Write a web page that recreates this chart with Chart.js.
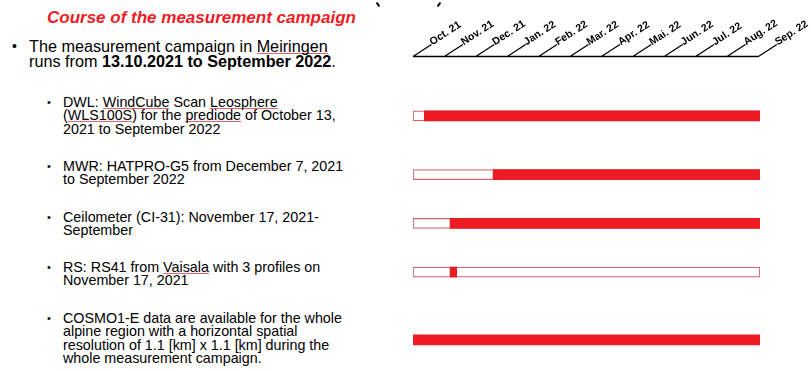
<!DOCTYPE html>
<html>
<head>
<meta charset="utf-8">
<script src="https://cdn.jsdelivr.net/npm/chart.js@4/dist/chart.umd.min.js"></script>
<style>
  html, body { margin: 0; padding: 0; background: #fff; }
  body { width: 811px; height: 371px; position: relative; overflow: hidden;
         font-family: "Liberation Sans", Arial, sans-serif; color: #000; }
  .title { position: absolute; left: 47px; top: 8px; font-size: 17px; font-weight: bold;
           font-style: italic; color: #ee1c25; white-space: nowrap; }
  .main { position: absolute; left: 29px; top: 39px; font-size: 16.2px; line-height: 15px; white-space: nowrap; }
  .main::before, .sub::before { content: "\2022"; position: absolute; }
  .main::before { left: -17px; font-size: 14px; }
  .sub { position: absolute; left: 63px; font-size: 14.3px; line-height: 13.4px; white-space: nowrap; }
  .sub::before { left: -16px; font-size: 11px; }
  .sp { background-image: url("data:image/svg+xml;utf8,<svg xmlns='http://www.w3.org/2000/svg' width='4' height='3'><path d='M0 2 L1 1 L2 2 L3 1 L4 2' fill='none' stroke='%23e04040' stroke-width='0.8'/></svg>");
        background-repeat: repeat-x; background-position: 0 100%; background-size: 4px 3px; }
  .mark { position: absolute; width: 2px; height: 5px; background: #000; }
  #wrap { position: absolute; left: 400px; top: 0; width: 411px; height: 371px; }
</style>
</head>
<body>
<div class="mark" style="left:377px;top:2px;transform:rotate(-35deg)"></div>
<div class="mark" style="left:438px;top:2px;transform:rotate(35deg)"></div>

<div class="title">Course of the measurement campaign</div>
<div class="main">The measurement campaign in <span class="sp">Meiringen</span><br>runs from <b>13.10.2021 to September 2022</b>.</div>
<div class="sub" style="top:96px">DWL: <span class="sp">WindCube</span> Scan <span class="sp">Leosphere</span><br>(<span class="sp">WLS100S</span>) for the <span class="sp">prediode</span> of October 13,<br>2021 to September 2022</div>
<div class="sub" style="top:160px">MWR: HATPRO-G5 from December 7, 2021<br>to September 2022</div>
<div class="sub" style="top:211px">Ceilometer (CI-31): November 17, 2021-<br>September</div>
<div class="sub" style="top:261px">RS: RS41 from <span class="sp">Vaisala</span> with 3 profiles on<br>November 17, 2021</div>
<div class="sub" style="top:312px">COSMO1-E data are available for the whole<br>alpine region with a horizontal spatial<br>resolution of 1.1 [km] x 1.1 [km] during the<br>whole measurement campaign.</div>

<div id="wrap"><canvas id="c" width="411" height="371"></canvas></div>

<script>
// Month ticks of the campaign (value = months since 1 Oct 2021)
const monthLabels = ['Oct. 21', 'Nov. 21', 'Dec. 21', 'Jan. 22', 'Feb. 22', 'Mar. 22',
                     'Apr. 22', 'Mai. 22', 'Jun. 22', 'Jul. 22', 'Aug. 22', 'Sep. 22'];

// Instruments, one row each
const instruments = ['DWL', 'MWR', 'Ceilometer', 'RS', 'COSMO1-E'];

// Period in which data are available (months since 1 Oct 2021)
const dataStart = [0.36, 2.55, 1.18, 1.18, 0.0];
const dataEnd   = [11.05, 11.05, 11.05, 1.39, 11.05];

// Full campaign frame drawn behind each row (COSMO row has none)
const frameStart = [0, 0, 0, 0, null];
const frameEnd   = [11.05, 11.05, 11.05, 11.05, null];

// Vertical slot of each row on the y scale (layout only)
const rowSlots = [0, 1.05, 1.92, 2.79, 4];

const RED = '#ed1c24';

const filled = instruments.map((n, i) => ({ y: rowSlots[i], x: [dataStart[i], dataEnd[i]] }));
const frames = instruments.map((n, i) => frameStart[i] === null ? null
  : ({ y: rowSlots[i], x: [frameStart[i], frameEnd[i]] })).filter(Boolean);

// Slanted month axis above the bars
const slantAxis = {
  id: 'slantAxis',
  afterDraw(chart) {
    const xs = chart.scales.x, ctx = chart.ctx;
    const y0 = chart.chartArea.top;
    const left = xs.getPixelForValue(0), right = xs.getPixelForValue(monthLabels.length - 1);
    ctx.save();
    ctx.strokeStyle = '#000';
    ctx.lineWidth = 1.3;
    ctx.beginPath();
    ctx.moveTo(left, y0 + 0.5);
    ctx.lineTo(right, y0 + 0.5);
    const ang = 33 * Math.PI / 180;
    const len = 22;
    monthLabels.forEach((lab, i) => {
      const px = xs.getPixelForValue(i);
      ctx.moveTo(px, y0 + 0.5);
      ctx.lineTo(px + len * Math.cos(ang), y0 + 0.5 - len * Math.sin(ang));
    });
    ctx.stroke();
    ctx.fillStyle = '#000';
    ctx.font = 'bold 10.5px "Liberation Sans", Arial, sans-serif';
    ctx.textAlign = 'left';
    ctx.textBaseline = 'alphabetic';
    monthLabels.forEach((lab, i) => {
      const px = xs.getPixelForValue(i) + (len + 1) * Math.cos(ang);
      const py = y0 - (len + 1) * Math.sin(ang) + 2;
      ctx.save();
      ctx.translate(px, py);
      ctx.rotate(-ang);
      ctx.fillText(lab, 0, 0);
      ctx.restore();
    });
    ctx.restore();
  }
};

new Chart(document.getElementById('c'), {
  type: 'bar',
  data: {
    datasets: [
      {
        label: 'available',
        data: filled,
        backgroundColor: RED,
        borderWidth: 0,
        barThickness: 10,
        order: 0
      },
      {
        label: 'campaign',
        data: frames,
        backgroundColor: '#ffffff',
        borderColor: '#d2656a',
        borderWidth: 1.2,
        borderSkipped: false,
        barThickness: 10,
        order: 1
      }
    ]
  },
  options: {
    indexAxis: 'y',
    responsive: false,
    animation: false,
    grouped: false,
    layout: { padding: { left: 13, right: 51, top: 56, bottom: 11 } },
    scales: {
      x: { type: 'linear', min: 0, max: 11.05, offset: false, display: false },
      y: { type: 'linear', min: -1.07, max: 4.36, reverse: true, offset: false, display: false }
    },
    plugins: { legend: { display: false }, tooltip: { enabled: false } }
  },
  plugins: [slantAxis]
});
</script>
</body>
</html>
